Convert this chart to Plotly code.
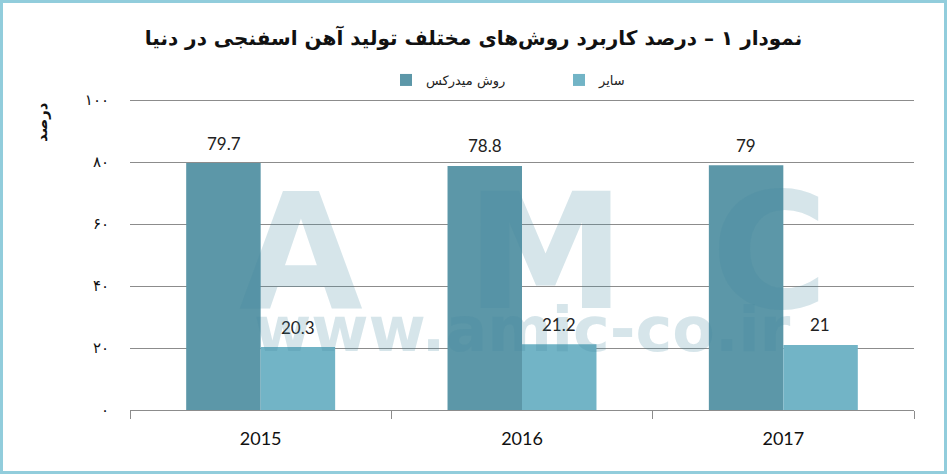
import plotly.graph_objects as go

# ---- data ----
years = ["2015", "2016", "2017"]
midrex = [79.7, 78.8, 79]
others = [20.3, 21.2, 21]
series_names = ["روش میدرکس", "سایر"]
ytick_vals = [0, 20, 40, 60, 80, 100]
ytick_text = ["۰", "۲۰", "۴۰", "۶۰", "۸۰", "۱۰۰"]
title_text = "نمودار ۱ – درصد کاربرد روش‌های مختلف تولید آهن اسفنجی در دنیا"
yaxis_title = "درصد"

W, H = 947, 474
L, R, T, B = 130, 33, 99, 64
PW, PH = W - L - R, H - T - B

def px_x(x):
    return (x - L) / PW

def px_y(y):
    return (H - B - y) / PH

dark = "#5C97A8"
light = "#72B4C6"

fig = go.Figure()
fig.add_trace(go.Bar(x=years, y=midrex, name=series_names[0], marker=dict(color=dark, line=dict(width=0))))
fig.add_trace(go.Bar(x=years, y=others, name=series_names[1], marker=dict(color=light, line=dict(width=0))))

annotations = []
# value labels (x given as category index)
for vals, shift in ((midrex, -37), (others, 37)):
    for i, yv in enumerate(vals):
        annotations.append(dict(x=i, y=yv, xref="x", yref="y", text=f"{yv:g}", showarrow=False,
                                xanchor="center", yanchor="middle",
                                xshift=shift, yshift=20, font=dict(family="Lato", size=17, color="#222222")))

# watermark
wm_color = "rgba(70,135,160,0.22)"
for letter, cx in (("A", 301), ("M", 545), ("C", 769)):
    annotations.append(dict(x=px_x(cx), y=px_y(252), xref="paper", yref="paper", text=f"<b>{letter}</b>",
                            xanchor="center", yanchor="middle",
                            showarrow=False, font=dict(family="DejaVu Sans", size=160, color=wm_color)))
annotations.append(dict(x=px_x(522), y=px_y(329), xref="paper", yref="paper", text="<b>www.amic-co.ir</b>",
                        xanchor="center", yanchor="middle",
                        showarrow=False, font=dict(family="DejaVu Sans", size=62, color=wm_color)))

# y-axis title
annotations.append(dict(x=px_x(42), y=px_y(122), xref="paper", yref="paper", text=f"<b>{yaxis_title}</b>",
                        xanchor="center", yanchor="middle",
                        textangle=-90, showarrow=False, font=dict(family="DejaVu Sans", size=15, color="#111111")))

fig.update_layout(
    width=W, height=H,
    margin=dict(l=L, r=R, t=T, b=B),
    paper_bgcolor="white", plot_bgcolor="white",
    barmode="group", bargap=0.43, bargroupgap=0,
    title=dict(text=f"<b>{title_text}</b>", x=0.5, xanchor="center", y=1 - 38 / H, yanchor="middle",
               font=dict(family="DejaVu Sans", size=20, color="#111111")),
    legend=dict(orientation="h", x=px_x(386), xanchor="left", y=px_y(80), yanchor="middle",
                font=dict(family="DejaVu Sans", size=13, color="#222222"), bgcolor="rgba(0,0,0,0)",
                traceorder="normal", entrywidth=128, entrywidthmode="pixels"),
    showlegend=True,
    annotations=annotations,
    shapes=[dict(type="rect", xref="paper", yref="paper",
                 x0=px_x(1.5), x1=px_x(W - 1.5), y0=px_y(H - 1.5), y1=px_y(1.5),
                 line=dict(color="#92CDDC", width=3), fillcolor="rgba(0,0,0,0)", layer="above")],
)
fig.update_xaxes(type="category", range=[-0.5, len(years) - 0.5], showline=True, linecolor="#8C8C8C",
                 linewidth=1, ticks="outside", tickson="boundaries", ticklen=8, tickcolor="#8C8C8C",
                 showgrid=False, ticklabelstandoff=12, tickfont=dict(family="Lato", size=18, color="#111111"))
fig.update_yaxes(range=[0, 100.4], tickvals=ytick_vals, ticktext=ytick_text, showgrid=True,
                 gridcolor="#8C8C8C", gridwidth=1, zeroline=False, showline=False,
                 ticklabelstandoff=20, tickfont=dict(family="DejaVu Sans", size=15, color="#111111"))

fig.write_html("out.html", config={"displayModeBar": False},
               post_script="document.body.style.margin='0';")
